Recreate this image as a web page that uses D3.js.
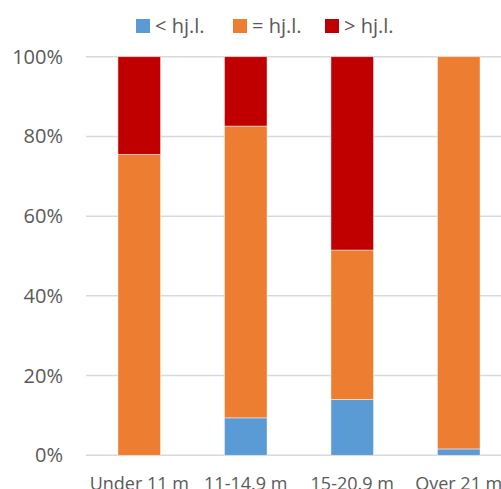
<!DOCTYPE html>
<html>
<head>
<meta charset="utf-8">
<script src="https://cdn.jsdelivr.net/npm/d3@7"></script>
<style>
  body { margin: 0; background: #fff; overflow: hidden; }
  text { font-family: "Open Sans", sans-serif; fill: #595959; }
</style>
</head>
<body>
<div id="chart"></div>
<script>
// Stacked 100% bar chart of vessel length groups

const categories = ["Under 11 m", "11-14.9 m", "15-20.9 m", "Over 21 m"];
const seriesNames = ["< hj.l.", "= hj.l.", "> hj.l."];
const below = [0, 9.4, 14.0, 1.6];
const equal = [75.5, 73.2, 37.5, 98.4];
const above = [24.5, 17.4, 48.5, 0];
const yTicks = [0, 20, 40, 60, 80, 100];
const colors = ["#5b9bd5", "#ed7d31", "#c00000"];

const w = 501, h = 489;
const pT = 57, pB = 34, pL = 86;

const svg = d3.select("#chart").append("svg")
  .attr("width", w)
  .attr("height", h);

const rows = categories.map((c, i) => ({
  cat: c,
  [seriesNames[0]]: below[i],
  [seriesNames[1]]: equal[i],
  [seriesNames[2]]: above[i]
}));

const stack = d3.stack().keys(seriesNames)(rows);

// band step ~106.5px, plot runs past the right edge
const xScale = d3.scaleBand()
  .domain(categories)
  .range([pL, pL + 4 * 106.5])
  .paddingInner(0.6)
  .paddingOuter(0.3);

const yScale = d3.scaleLinear()
  .domain([0, 100])
  .range([h - pB + 0.3, pT - 0.3]);

// gridlines
svg.append("g").selectAll("line")
  .data(yTicks)
  .enter()
  .append("line")
  .attr("x1", pL)
  .attr("x2", w)
  .attr("y1", d => yScale(d))
  .attr("y2", d => yScale(d))
  .attr("stroke", "#d9d9d9")
  .attr("stroke-width", 1.5);

// y labels
svg.append("g").selectAll("text")
  .data(yTicks)
  .enter()
  .append("text")
  .attr("x", 63)
  .attr("y", d => yScale(d))
  .attr("dy", "0.35em")
  .attr("text-anchor", "end")
  .style("font-size", "20px")
  .text(d => d + "%");

// bars
svg.append("g").selectAll("g")
  .data(stack)
  .enter()
  .append("g")
  .attr("fill", (d, i) => colors[i])
  .selectAll("rect")
  .data(d => d)
  .enter()
  .append("rect")
  .attr("x", d => xScale(d.data.cat))
  .attr("width", xScale.bandwidth())
  .attr("y", d => yScale(d[1]))
  .attr("height", d => yScale(d[0]) - yScale(d[1]))
  .attr("stroke", "#fff")
  .attr("stroke-opacity", 0.6)
  .attr("stroke-width", 0.75);

// x labels
svg.append("g").selectAll("text")
  .data(categories)
  .enter()
  .append("text")
  .attr("x", d => xScale(d) + xScale.bandwidth() / 2)
  .attr("y", 490)
  .attr("text-anchor", "middle")
  .style("font-size", "18px")
  .text(d => d);

// legend
const legendX = [136, 233, 325];
const legend = svg.append("g").selectAll("g")
  .data(seriesNames)
  .enter()
  .append("g")
  .attr("transform", (d, i) => `translate(${legendX[i]} 19)`);

legend.append("rect")
  .attr("width", 14)
  .attr("height", 14)
  .attr("fill", (d, i) => colors[i]);

legend.append("text")
  .attr("x", 19)
  .attr("y", 7)
  .attr("dy", "0.35em")
  .style("font-size", "20px")
  .text(d => d);
</script>
</body>
</html>
